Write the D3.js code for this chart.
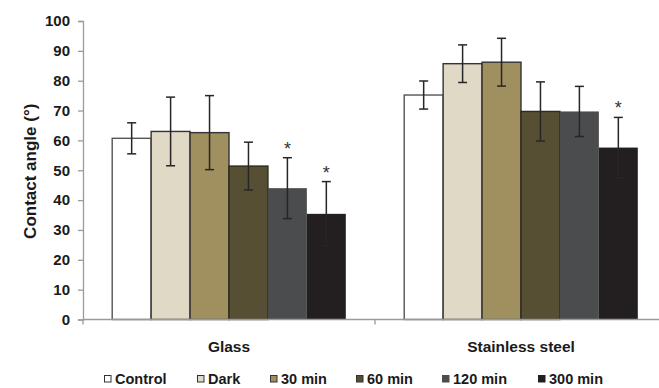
<!DOCTYPE html>
<html>
<head>
<meta charset="utf-8">
<script src="https://cdn.jsdelivr.net/npm/d3@7"></script>
<style>
  html, body { margin: 0; padding: 0; background: #fff; }
  svg { display: block; font-family: "Liberation Sans", Arial, sans-serif; }
</style>
</head>
<body>
<svg id="chart" width="659" height="388"></svg>
<script>
// Contact angle per surface and UV exposure
const surfaces = ["Glass", "Stainless steel"];
const treatments = ["Control", "Dark", "30 min", "60 min", "120 min", "300 min"];
const glassMean = [60.7, 63.0, 62.6, 51.4, 44.0, 35.4];
const glassSd   = [5.2, 11.5, 12.4, 8.0, 10.2, 10.8];
const steelMean = [75.2, 85.7, 86.2, 69.7, 69.7, 57.6];
const steelSd   = [4.7, 6.3, 8.0, 9.9, 8.4, 10.1];
// significance markers (true = asterisk above the error bar)
const glassSig = [false, false, false, false, true, true];
const steelSig = [false, false, false, false, false, true];
const yTicks = [0, 10, 20, 30, 40, 50, 60, 70, 80, 90, 100];

const fills   = ["#ffffff", "#e0d9c5", "#a08f5f", "#574f33", "#4b4c4e", "#231f20"];
const strokes = ["#555555", "#333333", "#333333", "#2e2a1c", "none", "none"];

const rows = [];
surfaces.forEach((s, si) => {
  const m = si === 0 ? glassMean : steelMean;
  const sd = si === 0 ? glassSd : steelSd;
  const sig = si === 0 ? glassSig : steelSig;
  treatments.forEach((t, ti) => rows.push({ surface: s, treatment: t, i: ti, mean: m[ti], sd: sd[ti], sig: sig[ti] }));
});

const svg = d3.select("#chart");
const x0 = d3.scaleBand().domain(surfaces).range([83, 667]).paddingInner(0.2).paddingOuter(0.1);
const x1 = d3.scaleBand().domain(treatments).range([0, x0.bandwidth()]);
const y = d3.scaleLinear().domain([0, 100]).range([319.5, 21]);

// y axis
const yAxis = svg.append("g").attr("transform", "translate(83,0)")
  .call(d3.axisLeft(y).tickValues(yTicks).tickSize(5).tickPadding(8));
yAxis.select(".domain").attr("stroke", "#9a9a9a").attr("stroke-width", 1.3);
yAxis.selectAll(".tick line").attr("stroke", "#9a9a9a").attr("stroke-width", 1.3);
yAxis.selectAll(".tick text").attr("fill", "#1a1a1a").attr("font-size", 15).attr("font-weight", "bold")
  .attr("font-family", "Liberation Sans, Arial, sans-serif");

svg.append("text")
  .attr("transform", `translate(36,${(y(0) + y(100)) / 2 + 1}) rotate(-90)`)
  .attr("text-anchor", "middle")
  .attr("font-size", 17).attr("font-weight", "bold").attr("fill", "#1a1a1a")
  .text("Contact angle (°)");

// bars
const bars = svg.append("g");
bars.selectAll("rect").data(rows).join("rect")
  .attr("x", d => x0(d.surface) + x1(d.treatment))
  .attr("y", d => y(d.mean))
  .attr("width", x1.bandwidth())
  .attr("height", d => y(0) - y(d.mean))
  .attr("fill", d => fills[d.i])
  .attr("stroke", d => strokes[d.i])
  .attr("stroke-width", 1.4);

// x axis baseline and category divider tick
svg.append("line").attr("x1", 83).attr("x2", 659).attr("y1", y(0)).attr("y2", y(0))
  .attr("stroke", "#9a9a9a").attr("stroke-width", 1.5);
surfaces.forEach(s => {
  const xb = x0(s) - x0.step() * x0.paddingOuter();
  svg.append("line").attr("x1", xb).attr("x2", xb).attr("y1", y(0)).attr("y2", y(0) + 5)
    .attr("stroke", "#9a9a9a").attr("stroke-width", 1.3);
});

// error bars
const cap = 4.5;
const eb = svg.append("g").attr("stroke", "#262626").attr("stroke-width", 1.5);
rows.forEach(d => {
  const cx = x0(d.surface) + x1(d.treatment) + x1.bandwidth() / 2;
  const yt = y(d.mean + d.sd), yb = y(d.mean - d.sd);
  eb.append("line").attr("x1", cx).attr("x2", cx).attr("y1", yt).attr("y2", yb);
  eb.append("line").attr("x1", cx - cap).attr("x2", cx + cap).attr("y1", yt).attr("y2", yt);
  eb.append("line").attr("x1", cx - cap).attr("x2", cx + cap).attr("y1", yb).attr("y2", yb);
  if (d.sig) {
    svg.append("text").attr("x", cx).attr("y", yt - 3)
      .attr("text-anchor", "middle").attr("font-size", 18).attr("fill", "#333")
      .text("*");
  }
});

// category labels
surfaces.forEach(s => {
  svg.append("text")
    .attr("x", x0(s) + x0.bandwidth() / 2)
    .attr("y", 352)
    .attr("text-anchor", "middle")
    .attr("font-size", 15.5).attr("font-weight", "bold").attr("fill", "#1a1a1a")
    .text(s);
});

// legend
const legendX = [104, 197, 270, 356, 442, 538];
const lg = svg.append("g");
treatments.forEach((t, i) => {
  const g = lg.append("g").attr("transform", `translate(${legendX[i]},375)`);
  g.append("rect").attr("x", 0.5).attr("y", 0.5).attr("width", 6.5).attr("height", 6.5)
    .attr("fill", fills[i]).attr("stroke", i < 4 ? "#333" : fills[i]).attr("stroke-width", 1);
  g.append("text").attr("x", 11).attr("y", 9)
    .attr("font-size", 14.5).attr("font-weight", "bold").attr("fill", "#1a1a1a")
    .text(t);
});
</script>
</body>
</html>
